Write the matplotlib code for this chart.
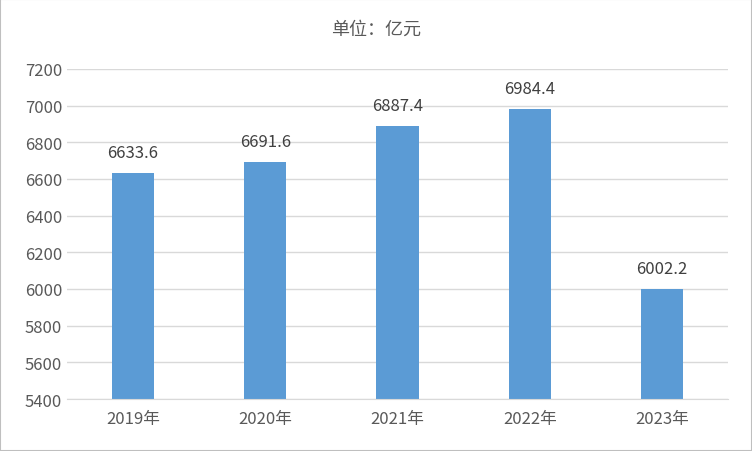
import matplotlib.pyplot as plt

years = ['2019年', '2020年', '2021年', '2022年', '2023年']
values = [6633.6, 6691.6, 6887.4, 6984.4, 6002.2]

plt.rcParams['font.family'] = ['Noto Sans CJK SC', 'DejaVu Sans']

fig = plt.figure(figsize=(7.52, 4.52), dpi=100)
ax = fig.add_axes([67/752, 1 - 400/452, 661/752, 330/452])
ax.bar(range(len(years)), values, width=0.32, color='#5B9BD5', zorder=2)
for i, v in enumerate(values):
    ax.text(i, v + 65, f'{v:.1f}', ha='center', va='bottom', fontsize=12, color='#404040')

ax.set_ylim(5400, 7200)
ax.set_yticks(range(5400, 7201, 200))
ax.set_xlim(-0.5, len(years) - 0.5)
ax.set_xticks(range(len(years)))
ax.set_xticklabels(years)
ax.grid(axis='y', color='#D9D9D9', linewidth=1, zorder=0)
for s in ['top', 'right', 'left']:
    ax.spines[s].set_visible(False)
ax.spines['bottom'].set_color('#D9D9D9')
ax.tick_params(length=0, labelsize=12, colors='#595959')
ax.tick_params(axis='x', pad=8)
fig.text(0.5, 1 - 30/452, '单位：亿元', ha='center', va='center', fontsize=13, color='#595959')
fig.patches.append(plt.Rectangle((0, 0), 1, 1, transform=fig.transFigure, fill=False,
                                 edgecolor='#BFBFBF', linewidth=1.5))
fig.savefig('out.png', dpi=100)
